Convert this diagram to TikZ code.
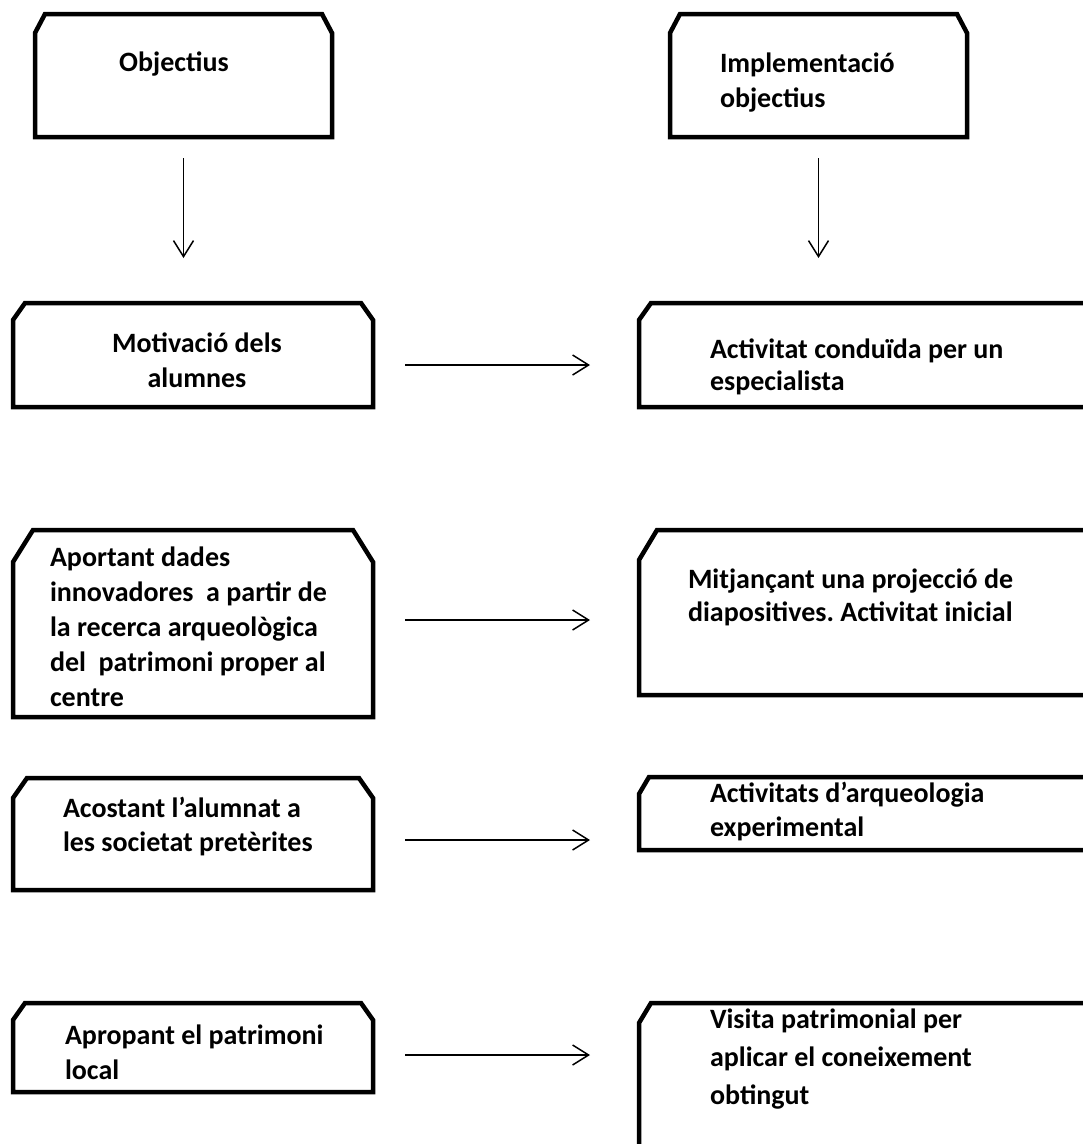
\documentclass[tikz,border=0pt]{standalone}
\usepackage{fontspec}
\setmainfont{Carlito}
\frenchspacing
\usetikzlibrary{arrows.meta,fit}
\tikzset{
  region/.style={inner sep=0pt, outer sep=0pt},
  boxline/.style={line width=4.5pt, line join=miter, draw=black},
  lbl/.style={inner sep=0pt, outer sep=0pt, align=left, anchor=base west,
    font=\bfseries\fontsize{28}{#1}\selectfont},
  clbl/.style={inner sep=0pt, outer sep=0pt, align=center, anchor=base,
    font=\bfseries\fontsize{28}{#1}\selectfont},
  arr/.style={line width=1.5pt, -{Straight Barb[length=16pt,width=20pt,line width=1.5pt]}}
}
\newcommand\snipbox[3]{%
  \draw[boxline] (#1.south west) -- ([shift={(0,#3)}]#1.north west)
    -- ([shift={(#2,0)}]#1.north west) -- ([shift={(-#2,0)}]#1.north east)
    -- ([shift={(0,#3)}]#1.north east) -- (#1.south east) -- cycle;}
\begin{document}
\begin{tikzpicture}[x=1pt,y=-1pt]
\useasboundingbox (0,0) rectangle (1083,1144);
\fill[white] (0,0) rectangle (1083,1144);
% regions
\node[region, fit={(35,14) (332,137)}] (A) {};
\node[region, fit={(670,14) (967,137)}] (B) {};
\node[region, fit={(13,303) (373,407)}] (C) {};
\node[region, fit={(639,303) (1110,407)}] (D) {};
\node[region, fit={(13,530) (373,717)}] (E) {};
\node[region, fit={(639,530) (1110,695)}] (F) {};
\node[region, fit={(13,778) (373,890)}] (G) {};
\node[region, fit={(639,777) (1110,850)}] (H) {};
\node[region, fit={(13,1003) (373,1092)}] (I) {};
\node[region, fit={(639,1003) (1110,1200)}] (J) {};
% shapes
\snipbox{A}{10}{19}
\snipbox{B}{10}{19}
\snipbox{C}{12}{17}
\snipbox{D}{12}{17}
\snipbox{E}{20}{32}
\snipbox{F}{18}{30}
\snipbox{G}{14}{20}
\snipbox{H}{10}{17}
\snipbox{I}{12}{17}
\snipbox{J}{12}{20}
% texts (anchor = baseline of the last line)
\node[clbl=30] (tA) at (174,71) {Objectius};
\node[lbl=35] (tB) at (720,107) {Implementació\\objectius};
\node[clbl=35] (tC) at (197,387) {Motivació dels\\alumnes};
\node[lbl=32] (tD) at (710,390) {Activitat conduïda per un\\especialista};
\node[lbl=35] (tE) at (50,706) {Aportant dades\\innovadores\ \ a partir de\\la recerca arqueològica\\del\ \ patrimoni proper al\\centre};
\node[lbl=33] (tF) at (688,621) {Mitjançant una projecció de\\diapositives. Activitat inicial};
\node[lbl=34] (tG) at (63,851) {Acostant l’alumnat a\\les societat pretèrites};
\node[lbl=34] (tH) at (710,836) {Activitats d’arqueologia\\experimental};
\node[lbl=35] (tI) at (65,1079) {Apropant el patrimoni\\local};
\node[lbl=38] (tJ) at (710,1104) {Visita patrimonial per\\aplicar el coneixement\\obtingut};
% arrows
\coordinate (cC) at ([shift={(0,-45)}]C.north);
\coordinate (cD) at ([shift={(0,-45)}]D.north);
\draw[arr] ([shift={(0,21)}]A.south) -- (A.south |- cC);
\draw[arr] ([shift={(0,21)}]B.south) -- (B.south |- cD);
\draw[arr] ([shift={(32,62)}]C.north east) -- ([shift={(-49,62)}]D.north west);
\draw[arr] ([shift={(32,90)}]E.north east) -- ([shift={(-49,90)}]F.north west);
\draw[arr] ([shift={(32,62)}]G.north east) -- ([shift={(-49,63)}]H.north west);
\draw[arr] ([shift={(32,52)}]I.north east) -- ([shift={(-49,52)}]J.north west);
\end{tikzpicture}
\end{document}
